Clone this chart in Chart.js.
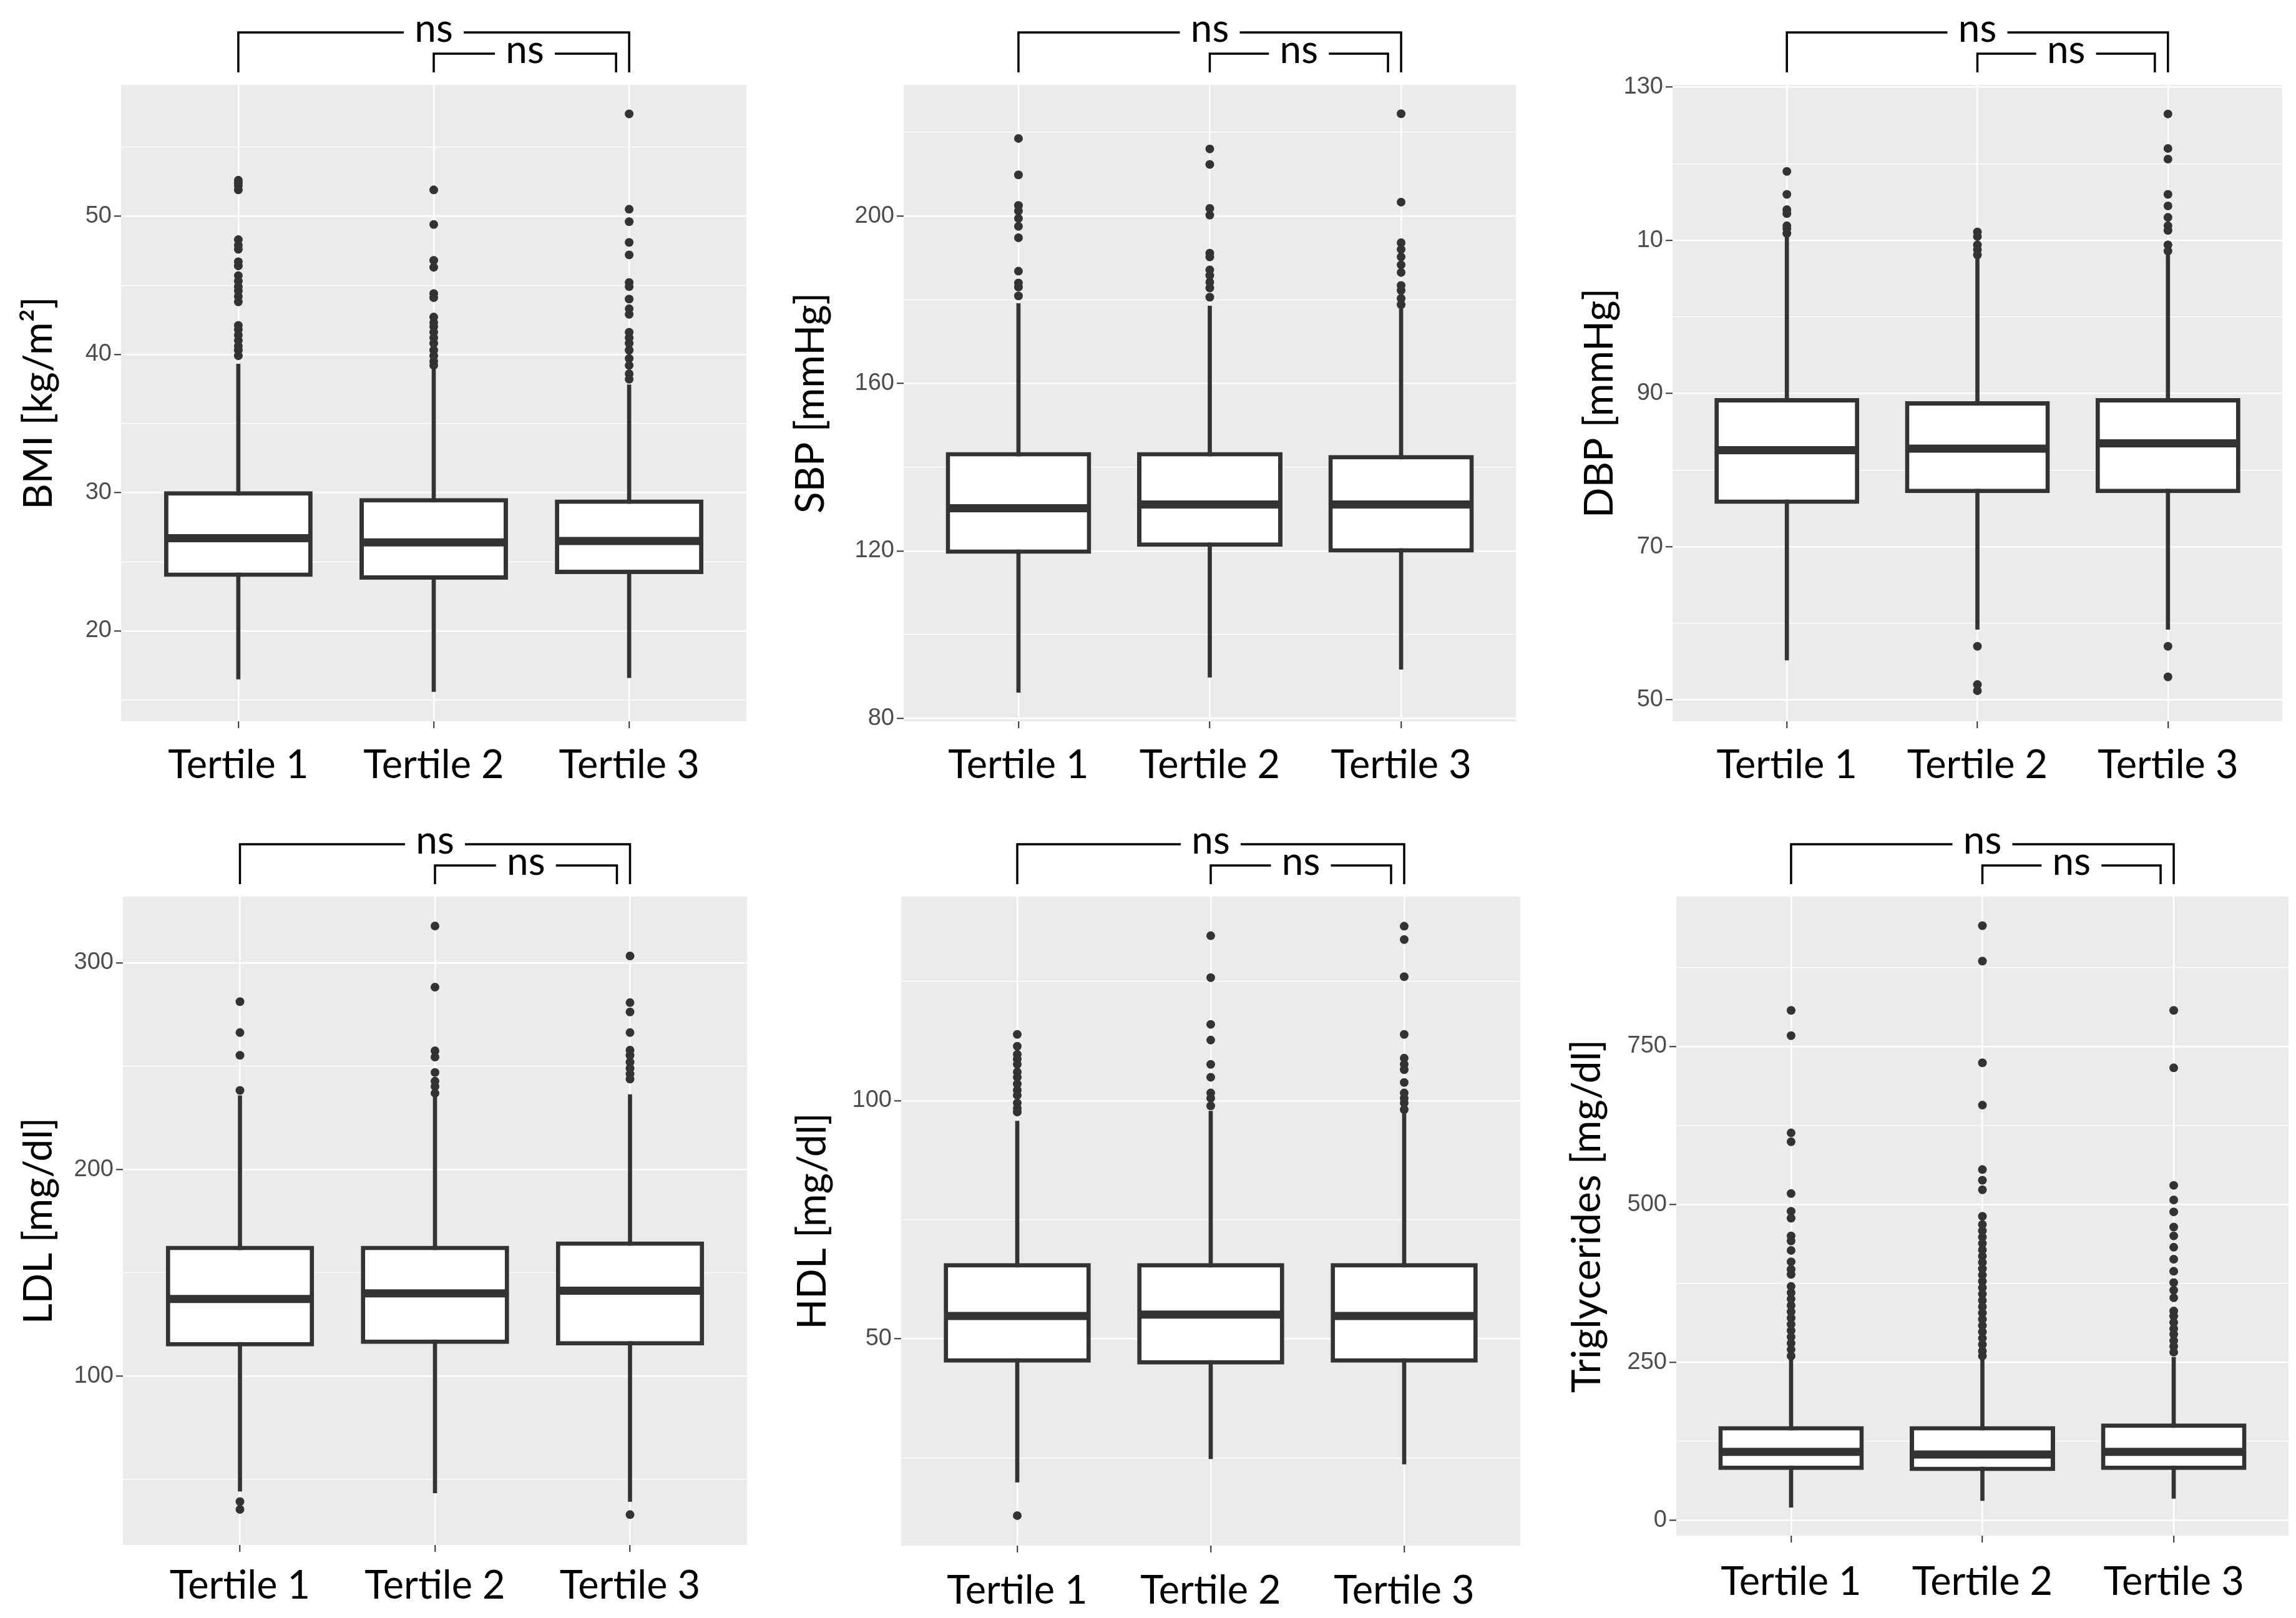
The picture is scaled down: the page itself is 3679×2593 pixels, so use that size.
<!DOCTYPE html>
<html>
<head>
<meta charset="utf-8">
<script src="https://cdn.jsdelivr.net/npm/chart.js@4.4.1/dist/chart.umd.min.js"></script>
<style>
  html, body { margin: 0; padding: 0; background: #fff; }
  #wrap { position: relative; width: 3679px; height: 2593px; overflow: hidden; }
  canvas { position: absolute; }
</style>
</head>
<body>
<div id="wrap">
  <canvas id="bmi"></canvas>
  <canvas id="sbp"></canvas>
  <canvas id="dbp"></canvas>
  <canvas id="ldl"></canvas>
  <canvas id="hdl"></canvas>
  <canvas id="tg"></canvas>
</div>
<script>
// categories and their positions on the x axis
const categories = ['Tertile 1', 'Tertile 2', 'Tertile 3'];
const positions = [1, 2, 3];

// significance brackets (pairs of positions) and their labels
const bracketPairs = [[1, 3], [2, 3]];
const bracketLabels = ['ns', 'ns'];

// BMI
const bmiLow = [16.5, 15.6, 16.6];
const bmiQ1 = [23.9, 23.7, 24.1];
const bmiMedian = [26.7, 26.4, 26.5];
const bmiQ3 = [30.1, 29.6, 29.5];
const bmiHigh = [39.3, 38.9, 37.8];
const bmiOutliers = [
  [52.6, 52.4, 52.2, 51.9, 48.3, 47.9, 47.6, 46.7, 46.4, 45.7, 45.3, 44.9, 44.6, 44.2, 43.8, 42.1, 41.8, 41.4, 41.0, 40.6, 40.3, 39.9],
  [51.9, 49.4, 46.8, 46.3, 44.4, 44.1, 42.7, 42.3, 42.0, 41.6, 41.2, 40.8, 40.3, 39.9, 39.5, 39.2],
  [57.4, 50.5, 49.6, 48.1, 47.2, 45.2, 44.9, 44.0, 43.3, 42.9, 41.6, 41.2, 40.8, 40.3, 39.7, 39.2, 38.6, 38.2]
];
const bmiTicks = [20, 30, 40, 50];
const bmiMinor = [15, 25, 35, 45, 55];

// SBP
const sbpLow = [86.2, 89.8, 91.7];
const sbpQ1 = [119.3, 121.0, 119.6];
const sbpMedian = [130.2, 131.1, 131.1];
const sbpQ3 = [143.6, 143.6, 142.9];
const sbpHigh = [179.1, 178.5, 177.8];
const sbpOutliers = [
  [218.5, 209.8, 202.5, 201.2, 199.4, 197.5, 194.8, 186.8, 184.0, 183.0, 180.9],
  [216.0, 212.3, 201.8, 200.2, 191.1, 190.2, 187.1, 185.8, 184.2, 182.8, 180.6],
  [224.4, 203.3, 193.6, 192.0, 190.2, 188.3, 186.5, 183.4, 182.2, 180.3, 178.8]
];
const sbpTicks = [80, 120, 160, 200];
const sbpMinor = [100, 140, 180, 220];

// DBP (the 110 tick is printed as "10" in the original figure)
const dbpLow = [55.2, 59.2, 59.2];
const dbpQ1 = [75.6, 77.0, 77.0];
const dbpMedian = [82.6, 82.8, 83.5];
const dbpQ3 = [89.4, 89.0, 89.4];
const dbpHigh = [110.5, 107.8, 108.1];
const dbpOutliers = [
  [119.0, 116.0, 114.0, 113.5, 111.9, 111.5, 110.9],
  [111.1, 110.5, 109.4, 108.8, 108.1, 57.0, 52.0, 51.2],
  [126.5, 122.0, 120.6, 116.0, 114.5, 113.0, 111.9, 111.3, 109.4, 108.6, 57.0, 53.0]
];
const dbpTicks = [50, 70, 90, 110, 130];
const dbpTickLabels = ['50', '70', '90', '10', '130'];
const dbpMinor = [60, 80, 100, 120];

// LDL
const ldlLow = [44.2, 43.4, 39.2];
const ldlQ1 = [114.3, 115.5, 114.8];
const ldlMedian = [137.3, 140.0, 141.3];
const ldlQ3 = [163.0, 163.0, 165.1];
const ldlHigh = [235.7, 235.2, 236.2];
const ldlOutliers = [
  [281.2, 266.2, 255.2, 238.2, 39.2, 35.4],
  [317.8, 288.2, 257.4, 254.4, 246.9, 242.7, 240.2, 236.9],
  [303.3, 280.7, 276.2, 266.2, 257.7, 255.2, 251.9, 248.9, 246.2, 243.7, 32.9]
];
const ldlTicks = [100, 200, 300];
const ldlMinor = [50, 150, 250];

// HDL
const hdlLow = [19.9, 24.8, 23.7];
const hdlQ1 = [45.0, 44.6, 45.0];
const hdlMedian = [54.8, 55.1, 54.8];
const hdlQ3 = [65.9, 65.9, 65.9];
const hdlHigh = [95.7, 97.8, 97.3];
const hdlOutliers = [
  [113.9, 111.4, 109.7, 108.7, 107.6, 106.0, 104.9, 103.5, 102.2, 101.1, 99.5, 98.4, 97.6, 12.9],
  [134.6, 125.8, 116.0, 112.7, 107.6, 104.9, 101.6, 100.5, 98.9],
  [136.6, 133.8, 126.0, 113.9, 108.9, 107.6, 106.5, 103.8, 101.6, 100.5, 99.5, 98.1]
];
const hdlTicks = [50, 100];
const hdlMinor = [25, 75, 125];

// Triglycerides
const tgLow = [20.4, 31.0, 34.4];
const tgQ1 = [79.4, 77.7, 79.4];
const tgMedian = [108, 104, 108];
const tgQ3 = [148.9, 148.9, 153.0];
const tgHigh = [255, 254, 258];
const tgOutliers = [
  [807, 767, 613, 599, 517, 489, 478, 450, 442, 427, 409, 397, 389, 370, 360, 350, 340, 330, 320, 310, 300, 290, 280, 270, 260],
  [941, 885, 724, 657, 555, 538, 523, 481, 468, 458, 448, 438, 428, 418, 408, 398, 388, 378, 368, 358, 348, 338, 328, 318, 308, 298, 288, 278, 268, 260],
  [807, 716, 530, 507, 488, 464, 450, 432, 413, 394, 376, 364, 352, 331, 323, 313, 303, 294, 284, 275, 266]
];
const tgTicks = [0, 250, 500, 750];
const tgMinor = [125, 375, 625, 875];

const BOX_COLOR = '#333333';

const panelBackground = {
  id: 'panelBackground',
  beforeDraw(chart) {
    const {ctx, chartArea: a} = chart;
    ctx.save();
    ctx.fillStyle = '#ebebeb';
    ctx.fillRect(a.left, a.top, a.right - a.left, a.bottom - a.top);
    ctx.restore();
  }
};

// thick median line across each box
const medianLines = {
  id: 'medianLines',
  afterDatasetsDraw(chart, args, opts) {
    const meta = chart.getDatasetMeta(1);
    const y = chart.scales.y;
    const ctx = chart.ctx;
    ctx.save();
    ctx.strokeStyle = BOX_COLOR;
    ctx.lineWidth = 13;
    meta.data.forEach((bar, i) => {
      const py = y.getPixelForValue(opts.values[i]);
      ctx.beginPath();
      ctx.moveTo(bar.x - bar.width / 2 + 1, py);
      ctx.lineTo(bar.x + bar.width / 2 - 1, py);
      ctx.stroke();
    });
    ctx.restore();
  }
};

// "ns" comparison brackets above the panel
const brackets = {
  id: 'brackets',
  afterDraw(chart, args, opts) {
    const x = chart.scales.x;
    const top = chart.chartArea.top;
    const ctx = chart.ctx;
    const levels = [84, 50];
    const inset = [0, 21];
    ctx.save();
    ctx.strokeStyle = '#000';
    ctx.fillStyle = '#000';
    ctx.lineWidth = 3.5;
    ctx.font = '62px Lato';
    ctx.textAlign = 'center';
    ctx.textBaseline = 'alphabetic';
    bracketPairs.forEach((pair, k) => {
      const x1 = x.getPixelForValue(pair[0]);
      const x2 = x.getPixelForValue(pair[1]) - inset[k];
      const lineY = top - levels[k];
      const legY = top - 20;
      const mid = (x1 + x2) / 2;
      const gap = 48;
      ctx.beginPath();
      ctx.moveTo(x1, legY);
      ctx.lineTo(x1, lineY);
      ctx.lineTo(mid - gap, lineY);
      ctx.moveTo(mid + gap, lineY);
      ctx.lineTo(x2, lineY);
      ctx.lineTo(x2, legY);
      ctx.stroke();
      ctx.fillText(bracketLabels[k], mid, lineY + 15);
    });
    ctx.restore();
  }
};

function drawPanel(p) {
  const canvas = document.getElementById(p.id);
  canvas.width = p.box[2];
  canvas.height = p.box[3];
  canvas.style.left = p.box[0] + 'px';
  canvas.style.top = p.box[1] + 'px';
  canvas.style.width = p.box[2] + 'px';
  canvas.style.height = p.box[3] + 'px';

  const points = [];
  p.outliers.forEach((list, i) => list.forEach(v => points.push({x: positions[i], y: v})));
  const allTicks = p.ticks.concat(p.minor).sort((a, b) => a - b);
  const isMajor = v => p.ticks.indexOf(v) !== -1;

  new Chart(canvas, {
    type: 'bar',
    data: {
      datasets: [
        {
          type: 'scatter',
          data: points,
          pointRadius: 7,
          pointBackgroundColor: BOX_COLOR,
          pointBorderWidth: 0,
          order: 0
        },
        {
          data: positions.map((x, i) => ({x: x, y: [p.q1[i], p.q3[i]]})),
          backgroundColor: '#ffffff',
          borderColor: BOX_COLOR,
          borderWidth: 7,
          borderSkipped: false,
          barPercentage: 0.76,
          categoryPercentage: 1,
          grouped: false,
          order: 1
        },
        {
          data: positions.map((x, i) => ({x: x, y: [p.low[i], p.high[i]]})),
          backgroundColor: BOX_COLOR,
          borderWidth: 0,
          barThickness: 6,
          grouped: false,
          order: 2
        }
      ]
    },
    options: {
      responsive: false,
      animation: false,
      devicePixelRatio: 1,
      layout: {padding: p.pad},
      plugins: {
        legend: {display: false},
        tooltip: {enabled: false},
        medianLines: {values: p.median}
      },
      scales: {
        x: {
          type: 'linear',
          min: 0.4,
          max: 3.6,
          offset: false,
          afterBuildTicks: s => { s.ticks = positions.map(v => ({value: v})); },
          afterFit: s => { s.height = p.xAxisH; },
          ticks: {
            callback: v => categories[positions.indexOf(v)] || '',
            font: {family: 'Lato', size: 63},
            color: '#000',
            padding: p.xPad,
            maxRotation: 0,
            autoSkip: false
          },
          grid: {offset: false, color: '#ffffff', lineWidth: 2.5, tickColor: '#333333', tickLength: 11, tickWidth: 2},
          border: {display: false}
        },
        y: {
          min: p.min,
          max: p.max,
          bounds: 'data',
          afterBuildTicks: s => { s.ticks = allTicks.map(v => ({value: v})); },
          afterFit: s => { s.width = p.yAxisW; },
          ticks: {
            callback: v => {
              const i = p.ticks.indexOf(v);
              if (i === -1) return '';
              return p.tickLabels ? p.tickLabels[i] : String(v);
            },
            font: {family: 'Liberation Sans', size: 38},
            color: '#4d4d4d',
            padding: 4,
            autoSkip: false
          },
          grid: {
            color: '#ffffff',
            lineWidth: c => isMajor(c.tick.value) ? 2.6 : 1.3,
            tickColor: c => isMajor(c.tick.value) ? '#333333' : 'rgba(0,0,0,0)',
            tickLength: 11,
            tickWidth: 2
          },
          border: {display: false},
          title: {
            display: true,
            text: p.title,
            font: {family: 'Lato', size: 64},
            color: '#000',
            padding: {top: p.titlePad, bottom: 0}
          }
        }
      }
    },
    plugins: [panelBackground, medianLines, brackets]
  });
}

const panels = [
  {id: 'bmi', title: 'BMI [kg/m²]', low: bmiLow, q1: bmiQ1, median: bmiMedian, q3: bmiQ3, high: bmiHigh, outliers: bmiOutliers,
   ticks: bmiTicks, minor: bmiMinor, min: 13.45, max: 59.5,
   box: [0, 0, 1226, 1296], pad: {left: 0, top: 136, right: 30, bottom: 0}, yAxisW: 194, xAxisH: 140, xPad: 22, titlePad: 24},
  {id: 'sbp', title: 'SBP [mmHg]', low: sbpLow, q1: sbpQ1, median: sbpMedian, q3: sbpQ3, high: sbpHigh, outliers: sbpOutliers,
   ticks: sbpTicks, minor: sbpMinor, min: 79.3, max: 231.3,
   box: [1226, 0, 1230, 1296], pad: {left: 0, top: 136, right: 27, bottom: 0}, yAxisW: 222, xAxisH: 140, xPad: 22, titlePad: 35},
  {id: 'dbp', title: 'DBP [mmHg]', low: dbpLow, q1: dbpQ1, median: dbpMedian, q3: dbpQ3, high: dbpHigh, outliers: dbpOutliers,
   ticks: dbpTicks, tickLabels: dbpTickLabels, minor: dbpMinor, min: 47.2, max: 130.3,
   box: [2456, 0, 1223, 1296], pad: {left: 0, top: 136, right: 22, bottom: 0}, yAxisW: 224, xAxisH: 140, xPad: 22, titlePad: 69},
  {id: 'ldl', title: 'LDL [mg/dl]', low: ldlLow, q1: ldlQ1, median: ldlMedian, q3: ldlQ3, high: ldlHigh, outliers: ldlOutliers,
   ticks: ldlTicks, minor: ldlMinor, min: 18.2, max: 332,
   box: [0, 1296, 1226, 1297], pad: {left: 0, top: 141, right: 29, bottom: 0}, yAxisW: 197, xAxisH: 117, xPad: 17, titlePad: 24},
  {id: 'hdl', title: 'HDL [mg/dl]', low: hdlLow, q1: hdlQ1, median: hdlMedian, q3: hdlQ3, high: hdlHigh, outliers: hdlOutliers,
   ticks: hdlTicks, minor: hdlMinor, min: 6.6, max: 142.8,
   box: [1226, 1296, 1230, 1297], pad: {left: 0, top: 141, right: 20, bottom: 0}, yAxisW: 218, xAxisH: 116, xPad: 24, titlePad: 38},
  {id: 'tg', title: 'Triglycerides [mg/dl]', low: tgLow, q1: tgQ1, median: tgMedian, q3: tgQ3, high: tgHigh, outliers: tgOutliers,
   ticks: tgTicks, minor: tgMinor, min: -24.5, max: 987,
   box: [2456, 1296, 1223, 1297], pad: {left: 0, top: 141, right: 12, bottom: 0}, yAxisW: 230, xAxisH: 132, xPad: 26, titlePad: 49}
];

panels.forEach(drawPanel);
</script>
</body>
</html>
